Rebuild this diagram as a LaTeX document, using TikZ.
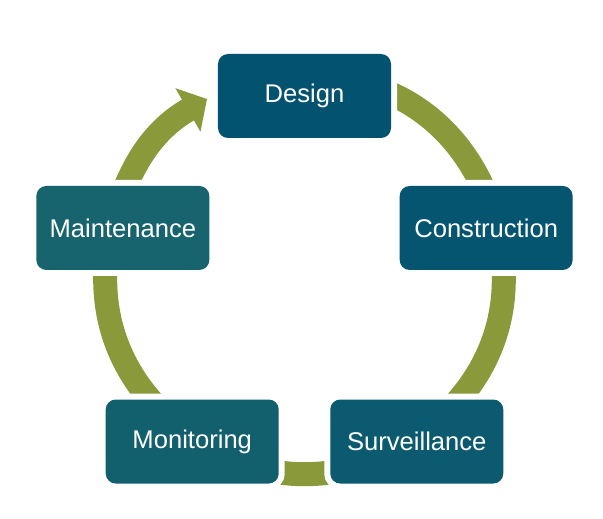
\documentclass[tikz,border=0pt]{standalone}
\usepackage{fontspec}
\setmainfont{Liberation Sans}
\usepackage{xcolor}
\usepackage{tikz}
\usetikzlibrary{arrows.meta,backgrounds}

\definecolor{ringgreen}{RGB}{138,154,59}
\definecolor{tealA}{RGB}{2,82,112}
\definecolor{tealB}{RGB}{5,85,112}
\definecolor{tealC}{RGB}{11,90,112}
\definecolor{tealD}{RGB}{18,95,110}
\definecolor{tealE}{RGB}{23,100,111}

\begin{document}
\begin{tikzpicture}[x=0.75pt, y=0.75pt,
    stage/.style={rectangle, rounded corners=7.5pt, minimum width=129.75pt, minimum height=63pt,
      inner sep=0pt, text=white, font=\fontsize{19.2}{22}\selectfont,
      preaction={draw=white, line width=9pt}},
    ring/.style={draw=ringgreen, line width=18pt}]
     \useasboundingbox (-304.5,-231) rectangle (298.5,287);

     \node[stage, fill=tealA] (design) at (90:191) {Design};
     \node[stage, fill=tealB] (construction) at (18:191) {Construction};
     \node[stage, fill=tealC] (surveillance) at (-54:191) {Surveillance};
     \node[stage, fill=tealD] (monitoring) at (-126:191) {Monitoring};
     \node[stage, fill=tealE] (maintenance) at (162:191) {Maintenance};

     % points of the ring under the boxes
     \coordinate (rd) at (0,211);
     \coordinate (rc) at (188.3,74.2);
     \coordinate (rs) at (116.4,-147.2);
     \coordinate (rm) at (-116.4,-147.2);
     \coordinate (rt) at (-188.3,74.2);
     \coordinate (tip) at (-97.5,188);

     \begin{pgfonlayer}{background}
     \draw[ring] (rd) to[bend left=36] (rc);
     \draw[ring] (rc) to[bend left=36] (rs);
     \draw[ring] (rs) to[bend left=36] (rm);
     \draw[ring] (rm) to[bend left=36] (rt);
     \draw[ring, -{Triangle[length=16.5pt, width=36.75pt]}] (rt) to[bend left=21.5] (tip);
     \end{pgfonlayer}
    \end{tikzpicture}
\end{document}
